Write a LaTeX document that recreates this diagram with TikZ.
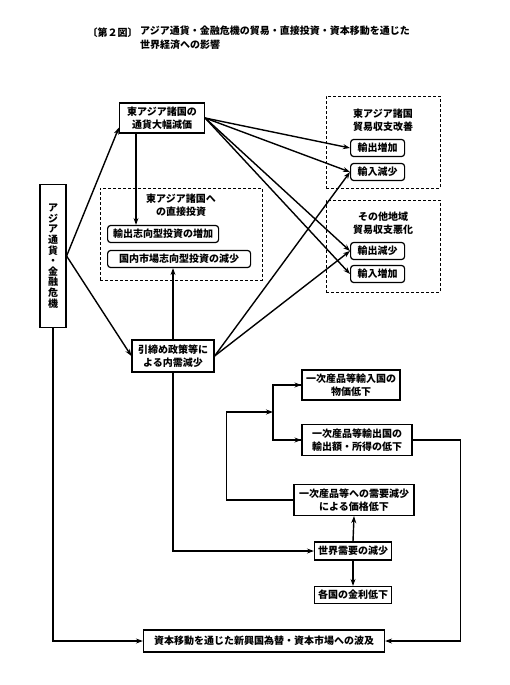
\documentclass[tikz,border=0pt]{standalone}
\usepackage{fontspec}
\setmainfont{Noto Sans CJK JP}
\usetikzlibrary{arrows.meta, positioning}

\begin{document}
\begin{tikzpicture}[
    x=1pt, y=-1pt,
    font=\fontsize{10}{13.5}\selectfont\bfseries,
    box/.style={
        draw,
        rectangle,
        line width=1.2pt,
        inner sep=2pt,
        align=center
    },
    rbox/.style={
        box,
        rounded corners=3pt,
        minimum width=54pt,
        minimum height=17pt
    },
    dashbox/.style={
        draw,
        rectangle,
        dash pattern=on 3pt off 2pt,
        line width=0.9pt
    },
    caption/.style={
        align=center,
        inner sep=0pt
    },
    arrow/.style={
        -{Stealth[length=7pt, width=5pt]},
        line width=1.4pt
    },
    line/.style={
        line width=1.4pt
    }
]
\useasboundingbox (0,0) rectangle (510,685);

% Title
\node[anchor=west] (fig) at (84,33) {〔第２図〕};
\node[anchor=north west, align=left, inner sep=0pt] (title) at (140,26)
    {アジア通貨・金融危機の貿易・直接投資・資本移動を通じた\\世界経済への影響};

% Left column
\node[box, minimum width=26pt, minimum height=143pt, font=\fontsize{10}{10.6}\selectfont\bfseries] (crisis) at (53,256)
    {ア\\ジ\\ア\\通\\貨\\・\\金\\融\\危\\機};
\node[box, minimum width=85pt, minimum height=30pt] (deval) at (162,118) {東アジア諸国の\\通貨大幅減価};
\node[box, minimum width=82pt, minimum height=32pt] (tighten) at (173,356) {引締め政策等に\\よる内需減少};

% Direct investment
\node[dashbox, minimum width=162pt, minimum height=92pt] (fdi) at (181,234) {};
\node[caption] (fditxt) at (181,205) {東アジア諸国へ\\の直接投資};
\node[rbox, anchor=west, minimum width=111pt] (expinv) at (107,234) {輸出志向型投資の増加};
\node[rbox, anchor=west, minimum width=143pt] (dominv) at (107,259) {国内市場志向型投資の減少};

% Trade balance, East Asia
\node[dashbox, minimum width=114pt, minimum height=92pt] (eabal) at (383,142) {};
\node[caption] (eatxt) at (383,120) {東アジア諸国\\貿易収支改善};
\node[rbox, anchor=west] (eaexp) at (350,148) {輸出増加};
\node[rbox, anchor=west] (eaimp) at (350,172) {輸入減少};

% Trade balance, other regions
\node[dashbox, minimum width=114pt, minimum height=92pt] (otbal) at (383,246) {};
\node[caption] (ottxt) at (383,223) {その他地域\\貿易収支悪化};
\node[rbox, anchor=west] (otexp) at (350,251) {輸出減少};
\node[rbox, anchor=west] (otimp) at (350,274) {輸入増加};

% Lower right
\node[box, minimum width=98pt, minimum height=30pt] (impctry) at (351,385) {一次産品等輸入国の\\物価低下};
\node[box, minimum width=110pt, minimum height=31pt] (expctry) at (357,440) {一次産品等輸出国の\\輸出額・所得の低下};
\node[box, minimum width=120pt, minimum height=31pt] (demand) at (354,500) {一次産品等への需要減少\\による価格低下};
\node[box, minimum width=77pt, minimum height=18pt] (world) at (353,551) {世界需要の減少};
\node[box, minimum width=77pt, minimum height=17pt] (rate) at (353,595) {各国の金利低下};
\node[box, minimum width=241pt, minimum height=22pt] (capital) at (264,641) {資本移動を通じた新興国為替・資本市場への波及};

% Connectors
\draw[arrow] (crisis.east) -- ([yshift=6pt]deval.south west);
\draw[arrow] (crisis.east) -- (tighten.west);
\draw[arrow] ([xshift=-26pt]deval.south) -- ([xshift=-26pt]deval.south |- expinv.north);

\draw[arrow] (deval.east) -- (eaexp.west);
\draw[arrow] (deval.east) -- (eaimp.west);
\draw[arrow] (deval.east) -- (otexp.west);
\draw[arrow] (deval.east) -- (otimp.west);

\draw[arrow] (tighten.east) -- (eaimp.west);
\draw[arrow] (tighten.east) -- (otexp.west);
\draw[arrow] (tighten.north) -- (tighten.north |- dominv.south);
\draw[arrow] (tighten.south) |- (world.west);

\coordinate (split) at (273,412);
\draw[arrow] (demand.west) -- ++(-67,0) |- (split);
\draw[line] (split) |- (impctry.west);
\draw[arrow] (split |- impctry.west) -- (impctry.west);
\draw[line] (split) |- (expctry.west);
\draw[arrow] (split |- expctry.west) -- (expctry.west);

\draw[arrow] (world.north) -- (demand.south);
\draw[arrow] (world.south) -- (rate.north);

\draw[arrow] (expctry.east) -- ++(48,0) |- (capital.east);
\draw[arrow] (crisis.south) |- (capital.west);

\end{tikzpicture}
\end{document}
